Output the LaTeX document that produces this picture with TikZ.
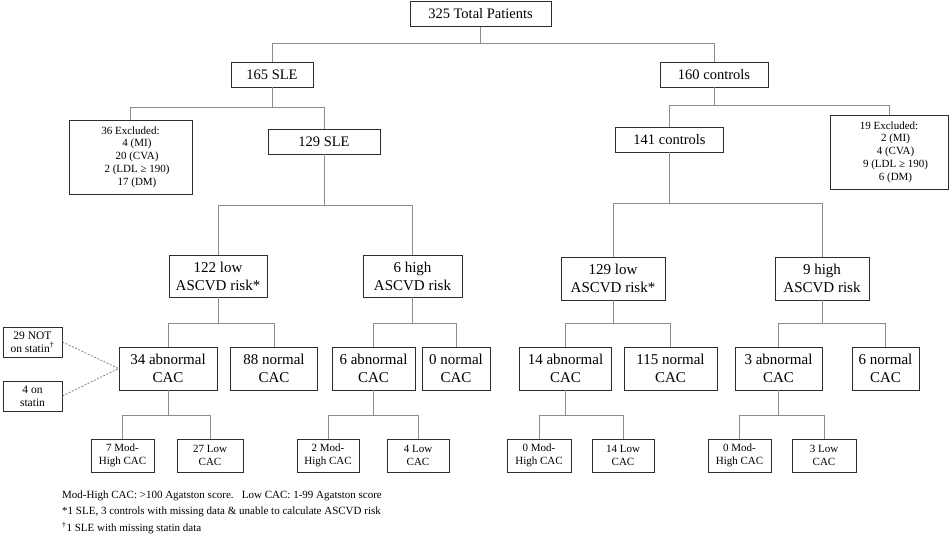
\documentclass[tikz,border=0pt]{standalone}
\usepackage{fontspec}
\setmainfont{Liberation Serif}
\definecolor{boxc}{RGB}{45,45,45}
\definecolor{connc}{RGB}{140,140,140}
\definecolor{statc}{RGB}{120,120,120}
\begin{document}
\begin{tikzpicture}[x=1pt,y=-1pt,
  box/.style={draw=boxc, line width=0.9pt, rectangle, inner sep=0pt, align=center, text=black},
  big/.style={box, font=\fontsize{14.5}{17}\selectfont, minimum height=25pt},
  mid/.style={box, font=\fontsize{15}{18}\selectfont},
  sm/.style={box, font=\fontsize{11}{12.7}\selectfont},
  conn/.style={draw=connc, line width=1pt},
  statinline/.style={draw=statc, line width=0.7pt, dash pattern=on 2pt off 1.5pt},
  foot/.style={anchor=west, inner sep=0pt, font=\fontsize{11}{13}\selectfont}
]
\useasboundingbox (0,0) rectangle (950,540);

% level 0-2
\node[big, minimum width=141pt] (tot) at (480.5,14) {325 Total Patients};
\node[big, minimum width=82pt] (s165) at (272,74.5) {165 SLE};
\node[big, minimum width=108pt] (c160) at (714,74.5) {160 controls};
\node[sm, minimum width=123pt, minimum height=74pt] (exL) at (130.5,157)
  {36 Excluded:\\\hspace*{13pt}4 (MI)\\\hspace*{13pt}20 (CVA)\\\hspace*{13pt}2 (LDL ≥ 190)\\\hspace*{13pt}17 (DM)};
\node[big, minimum width=112pt] (s129) at (324,141.5) {129 SLE};
\node[big, minimum width=108pt] (c141) at (669.5,139.5) {141 controls};
\node[sm, minimum width=118pt, minimum height=74pt] (exR) at (889,152)
  {19 Excluded:\\\hspace*{13pt}2 (MI)\\\hspace*{13pt}4 (CVA)\\\hspace*{13pt}9 (LDL ≥ 190)\\\hspace*{13pt}6 (DM)};

% level 3
\node[mid, minimum width=98pt, minimum height=42pt] (lo122) at (218,276) {122 low\\ASCVD risk*};
\node[mid, minimum width=99pt, minimum height=42pt] (hi6) at (412.5,276) {6 high\\ASCVD risk};
\node[mid, minimum width=104pt, minimum height=43pt] (lo129) at (613,278.5) {129 low\\ASCVD risk*};
\node[mid, minimum width=94pt, minimum height=43pt] (hi9) at (822,278.5) {9 high\\ASCVD risk};

% level 4
\node[mid, minimum width=98pt, minimum height=43pt] (ab34) at (168,368.5) {34 abnormal\\CAC};
\node[mid, minimum width=87pt, minimum height=43pt] (no88) at (274,368.5) {88 normal\\CAC};
\node[mid, minimum width=83pt, minimum height=43pt] (ab6) at (373.5,368.5) {6 abnormal\\CAC};
\node[mid, minimum width=68pt, minimum height=43pt] (no0) at (456,368.5) {0 normal\\CAC};
\node[mid, minimum width=92pt, minimum height=43pt] (ab14) at (565.5,368.5) {14 abnormal\\CAC};
\node[mid, minimum width=93pt, minimum height=43pt] (no115) at (670.5,368.5) {115 normal\\CAC};
\node[mid, minimum width=87pt, minimum height=43pt] (ab3) at (778.5,368.5) {3 abnormal\\CAC};
\node[mid, minimum width=67pt, minimum height=43pt] (no6) at (885.5,368.5) {6 normal\\CAC};

% level 5
\node[sm, minimum width=63pt, minimum height=33pt] (l1) at (122.5,455.5) {7 Mod-\\High CAC};
\node[sm, minimum width=66pt, minimum height=33pt] (l2) at (210,455.5) {27 Low\\CAC};
\node[sm, minimum width=62pt, minimum height=33pt] (l3) at (328,455.5) {2 Mod-\\High CAC};
\node[sm, minimum width=62pt, minimum height=33pt] (l4) at (418,455.5) {4 Low\\CAC};
\node[sm, minimum width=64pt, minimum height=33pt] (l5) at (539,455.5) {0 Mod-\\High CAC};
\node[sm, minimum width=62pt, minimum height=33pt] (l6) at (623,455.5) {14 Low\\CAC};
\node[sm, minimum width=63pt, minimum height=33pt] (l7) at (739.5,455.5) {0 Mod-\\High CAC};
\node[sm, minimum width=64pt, minimum height=33pt] (l8) at (824,455.5) {3 Low\\CAC};

% statin notes
\node[sm, font=\fontsize{11.5}{12.7}\selectfont, minimum width=59pt, minimum height=30pt] (n29) at (32.5,342) {29 NOT\\on statin\textsuperscript{†}};
\node[sm, font=\fontsize{11.5}{12.7}\selectfont, minimum width=59pt, minimum height=30pt] (n4) at (32.5,396) {4 on\\statin};

% bar coordinates
\coordinate (b1) at (0,44);
\coordinate (b2L) at (0,108);
\coordinate (b2R) at (0,106);
\coordinate (b3L) at (0,206);
\coordinate (b3R) at (0,204);
\coordinate (b4) at (0,323);
\coordinate (b5) at (0,415);

% connectors
\draw[conn] (tot.south) -- (tot.south |- b1);
\draw[conn] (s165.north) -- (s165.north |- b1) -- (c160.north |- b1) -- (c160.north);

\draw[conn] (s165.south) -- (s165.south |- b2L);
\draw[conn] (exL.north) -- (exL.north |- b2L) -- (s129.north |- b2L) -- (s129.north);
\draw[conn] (c160.south) -- (c160.south |- b2R);
\draw[conn] (c141.north) -- (c141.north |- b2R) -- (exR.north |- b2R) -- (exR.north);

\draw[conn] (s129.south) -- (s129.south |- b3L);
\draw[conn] (lo122.north) -- (lo122.north |- b3L) -- (hi6.north |- b3L) -- (hi6.north);
\draw[conn] (c141.south) -- (c141.south |- b3R);
\draw[conn] (lo129.north) -- (lo129.north |- b3R) -- (hi9.north |- b3R) -- (hi9.north);

\draw[conn] (lo122.south) -- (lo122.south |- b4);
\draw[conn] (ab34.north) -- (ab34.north |- b4) -- (no88.north |- b4) -- (no88.north);
\draw[conn] (hi6.south) -- (hi6.south |- b4);
\draw[conn] (ab6.north) -- (ab6.north |- b4) -- (no0.north |- b4) -- (no0.north);
\draw[conn] (lo129.south) -- (lo129.south |- b4);
\draw[conn] (ab14.north) -- (ab14.north |- b4) -- (no115.north |- b4) -- (no115.north);
\draw[conn] (hi9.south) -- (hi9.south |- b4);
\draw[conn] (ab3.north) -- (ab3.north |- b4) -- (no6.north |- b4) -- (no6.north);

\draw[conn] (ab34.south) -- (ab34.south |- b5);
\draw[conn] (l1.north) -- (l1.north |- b5) -- (l2.north |- b5) -- (l2.north);
\draw[conn] (ab6.south) -- (ab6.south |- b5);
\draw[conn] (l3.north) -- (l3.north |- b5) -- (l4.north |- b5) -- (l4.north);
\draw[conn] (ab14.south) -- (ab14.south |- b5);
\draw[conn] (l5.north) -- (l5.north |- b5) -- (l6.north |- b5) -- (l6.north);
\draw[conn] (ab3.south) -- (ab3.south |- b5);
\draw[conn] (l7.north) -- (l7.north |- b5) -- (l8.north |- b5) -- (l8.north);

\draw[statinline] (n29.east) -- (ab34.west);
\draw[statinline] (n4.east) -- (ab34.west);

% footnotes
\node[foot] (f1) at (62,496) {Mod-High CAC: >100 Agatston score.\ \ \ Low CAC: 1-99 Agatston score};
\node[foot] (f2) at (62,512) {*1 SLE, 3 controls with missing data \& unable to calculate ASCVD risk};
\node[foot] (f3) at (62,528) {\textsuperscript{†}1 SLE with missing statin data};
\end{tikzpicture}
\end{document}
